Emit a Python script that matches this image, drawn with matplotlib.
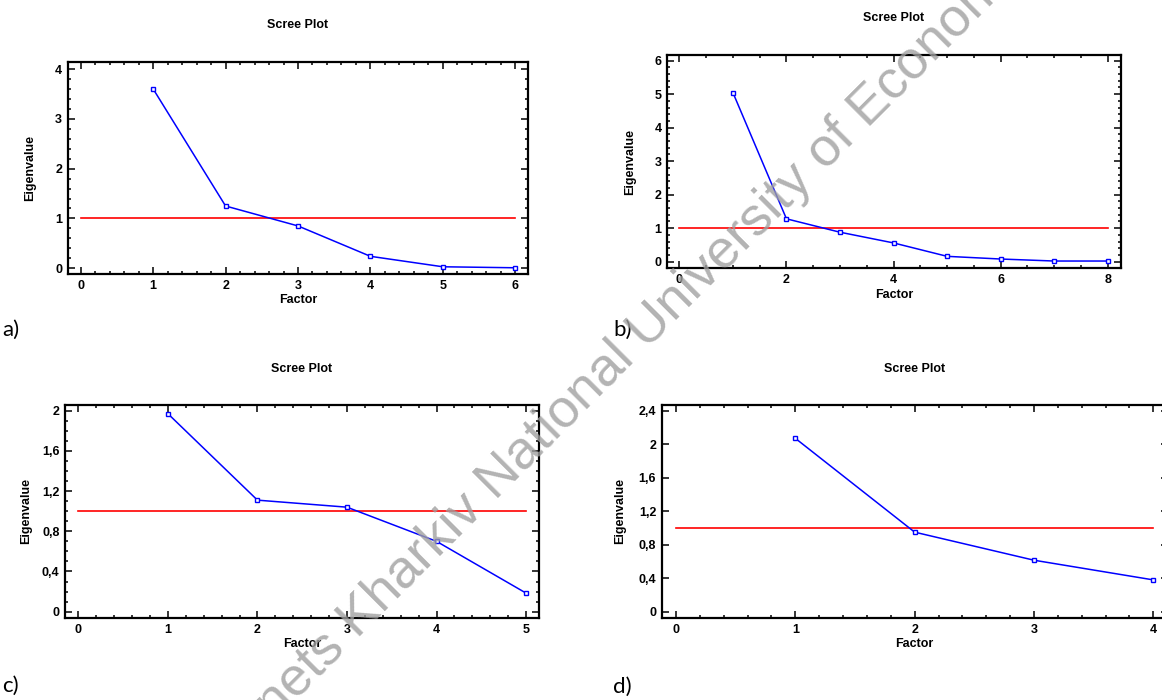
import matplotlib
matplotlib.use("Agg")
import matplotlib.pyplot as plt
from matplotlib.ticker import MultipleLocator, FuncFormatter, NullLocator

# eigenvalues
eig_a = [3.60, 1.25, 0.85, 0.24, 0.03, 0.01]
eig_b = [5.05, 1.28, 0.88, 0.56, 0.16, 0.08, 0.02, 0.02]
eig_c = [1.97, 1.11, 1.04, 0.70, 0.185]
eig_d = [2.07, 0.95, 0.615, 0.38]

factors_a = list(range(1, len(eig_a) + 1))
factors_b = list(range(1, len(eig_b) + 1))
factors_c = list(range(1, len(eig_c) + 1))
factors_d = list(range(1, len(eig_d) + 1))

panel_labels = ["a)", "b)", "c)", "d)"]
title = "Scree Plot"
watermark = "Simon Kuznets Kharkiv National University of Economics"

W, H = 1162, 700
FONT = "Liberation Sans"
FS = 9


def comma_fmt(v, pos):
    return ("%g" % round(v, 2)).replace(".", ",")


def scree(fig, box, factors, eig, xlim, ylim, xstep, xminor, ystep, yminor,
          comma, ylabel_x, title_y):
    left, top, right, bottom = box
    ax = fig.add_axes([left / W, 1 - bottom / H, (right - left) / W, (bottom - top) / H])
    ax.plot([0, factors[-1]], [1, 1], color="red", lw=1.2, zorder=2)
    ax.plot(factors, eig, color="blue", lw=1.1, marker="s", ms=3.2,
            mfc="white", mec="blue", mew=1.0, zorder=3, clip_on=False)
    ax.set_xlim(*xlim)
    ax.set_ylim(*ylim)
    ax.xaxis.set_major_locator(MultipleLocator(xstep))
    ax.xaxis.set_minor_locator(MultipleLocator(xminor))
    ax.yaxis.set_major_locator(MultipleLocator(ystep))
    if yminor:
        ax.yaxis.set_minor_locator(MultipleLocator(yminor))
    else:
        ax.yaxis.set_minor_locator(NullLocator())
    if comma:
        ax.yaxis.set_major_formatter(FuncFormatter(comma_fmt))
    ax.tick_params(which="both", direction="in", top=True, right=True,
                   width=1.1, labelsize=FS, pad=4)
    ax.tick_params(which="major", length=5)
    ax.tick_params(which="minor", length=2.5)
    for lab in ax.get_xticklabels() + ax.get_yticklabels():
        lab.set_fontfamily(FONT)
        lab.set_fontweight("bold")
    for sp in ax.spines.values():
        sp.set_linewidth(1.6)
    ax.set_xlabel("Factor", fontsize=FS, fontweight="bold", family=FONT, labelpad=2)
    ax.set_ylabel("Eigenvalue", fontsize=FS, fontweight="bold", family=FONT)
    # label anchor is the right edge of the rotated text
    ax.yaxis.set_label_coords((ylabel_x + 5 - left) / (right - left), 0.5)
    fig.text((left + right) / 2 / W, 1 - title_y / H, title, ha="center", va="center",
             fontsize=FS, fontweight="bold", family=FONT)
    return ax


def main():
    fig = plt.figure(figsize=(W / 100, H / 100), dpi=100)

    scree(fig, (67.7, 61.7, 528.3, 274), factors_a, eig_a, (-0.18, 6.18), (-0.115, 4.147),
          1, 0.2, 1, 0.2, False, 31, 25)
    scree(fig, (667, 55, 1120.7, 268.3), factors_b, eig_b, (-0.23, 8.24), (-0.197, 6.17),
          2, 0.5, 1, 0.2, False, 631, 18)
    scree(fig, (65, 405, 539, 618), factors_c, eig_c, (-0.15, 5.145), (-0.063, 2.057),
          1, 0.2, 0.4, 0.1, True, 27, 369)
    scree(fig, (661.7, 405, 1167.6, 618), factors_d, eig_d, (-0.12, 4.12), (-0.075, 2.468),
          1, 0.2, 0.4, None, True, 621, 369)

    label_pos = [(2, 330), (613, 330), (2, 686), (613, 687)]
    for lab, (x, y) in zip(panel_labels, label_pos):
        fig.text(x / W, 1 - y / H, lab, ha="left", va="center", fontsize=16, family="Lato")

    # diagonal watermark over the panels
    fig.text(562 / W, 1 - 415 / H, watermark, ha="center", va="center", rotation=45,
             fontsize=39, family=FONT, color="#a0a0a0", alpha=0.8, zorder=10)

    fig.savefig("out.png", dpi=100)


if __name__ == "__main__":
    main()
